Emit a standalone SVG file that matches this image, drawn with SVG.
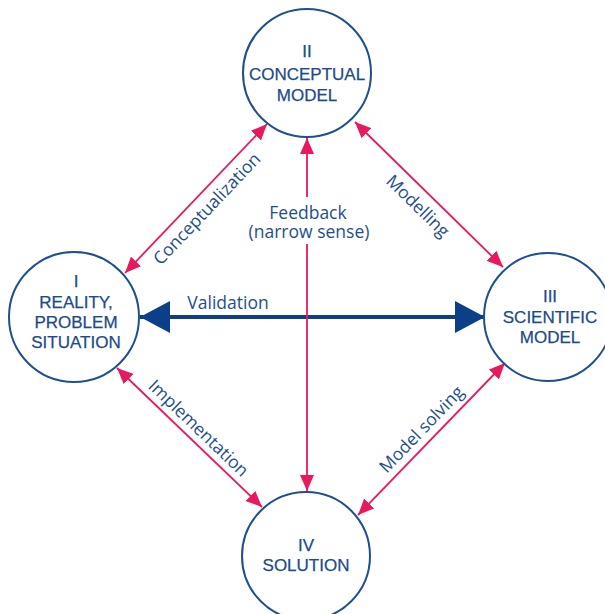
<svg xmlns="http://www.w3.org/2000/svg" width="605" height="614" viewBox="0 0 605 614">
  <style>
    .node circle { fill: #ffffff; stroke: #1d4f91; stroke-width: 2; }
    .node text { font-family: "Liberation Sans", Arial, sans-serif; font-size: 17px; fill: #1c4a8a; stroke: #1c4a8a; stroke-width: 0.25; text-anchor: middle; }
    .label { font-family: "Open Sans", "Liberation Sans", sans-serif; font-size: 17.5px; fill: #1f4e8e; text-anchor: middle; }
    .link { fill: none; stroke: #e8195c; stroke-width: 1.8; marker-start: url(#pinkHead); marker-end: url(#pinkHead); }
    .validation { fill: none; stroke: #0b3f88; stroke-width: 4; marker-start: url(#blueHead); marker-end: url(#blueHead); }
  </style>
  <defs>
    <marker id="pinkHead" viewBox="0 0 16 14" refX="16" refY="7" markerWidth="16" markerHeight="14" markerUnits="userSpaceOnUse" orient="auto-start-reverse">
      <path d="M0,0 L16,7 L0,14 Z" fill="#e8195c"/>
    </marker>
    <marker id="blueHead" viewBox="0 0 30 32" refX="30" refY="16" markerWidth="30" markerHeight="32" markerUnits="userSpaceOnUse" orient="auto-start-reverse">
      <path d="M0,0 L30,16 L0,32 Z" fill="#0b3f88"/>
    </marker>
  </defs>

  <!-- connectors -->
  <g id="connectors">
    <path class="validation" d="M140,317 H485"/>
    <path class="link" d="M125,273 L267,124"/>
    <path class="link" d="M355,122 L503,267"/>
    <path class="link" d="M117,368 L262,507"/>
    <path class="link" d="M505,363 L358,515"/>
    <path class="link" d="M307,138 V197 M307,244 V491"/>
  </g>

  <!-- connector labels -->
  <g id="labels">
    <text class="label" x="228" y="309">Validation</text>
    <text class="label" transform="translate(196,198.5) rotate(-46.4)" y="21">Conceptualization</text>
    <text class="label" transform="translate(429,194.5) rotate(44.4)" y="22">Modelling</text>
    <text class="label" transform="translate(189.5,437.5) rotate(43.8)" y="-7">Implementation</text>
    <text class="label" transform="translate(431.5,439) rotate(-46)" y="-8">Model solving</text>
    <text class="label" x="308" y="219">Feedback</text>
    <text class="label" x="309" y="238">(narrow sense)</text>
  </g>

  <!-- nodes -->
  <g id="node-conceptual" class="node">
    <circle cx="307" cy="73" r="64"/>
    <text x="307" y="57">II</text>
    <text x="307" y="80">CONCEPTUAL</text>
    <text x="307" y="101">MODEL</text>
  </g>
  <g id="node-reality" class="node">
    <circle cx="74" cy="317" r="65"/>
    <text x="76" y="287">I</text>
    <text x="76" y="308">REALITY,</text>
    <text x="76" y="328">PROBLEM</text>
    <text x="76" y="348">SITUATION</text>
  </g>
  <g id="node-scientific" class="node">
    <circle cx="548" cy="317" r="64"/>
    <text x="550" y="302">III</text>
    <text x="550" y="323">SCIENTIFIC</text>
    <text x="550" y="343">MODEL</text>
  </g>
  <g id="node-solution" class="node">
    <circle cx="306" cy="556" r="64"/>
    <text x="306" y="551">IV</text>
    <text x="306" y="571">SOLUTION</text>
  </g>
</svg>
